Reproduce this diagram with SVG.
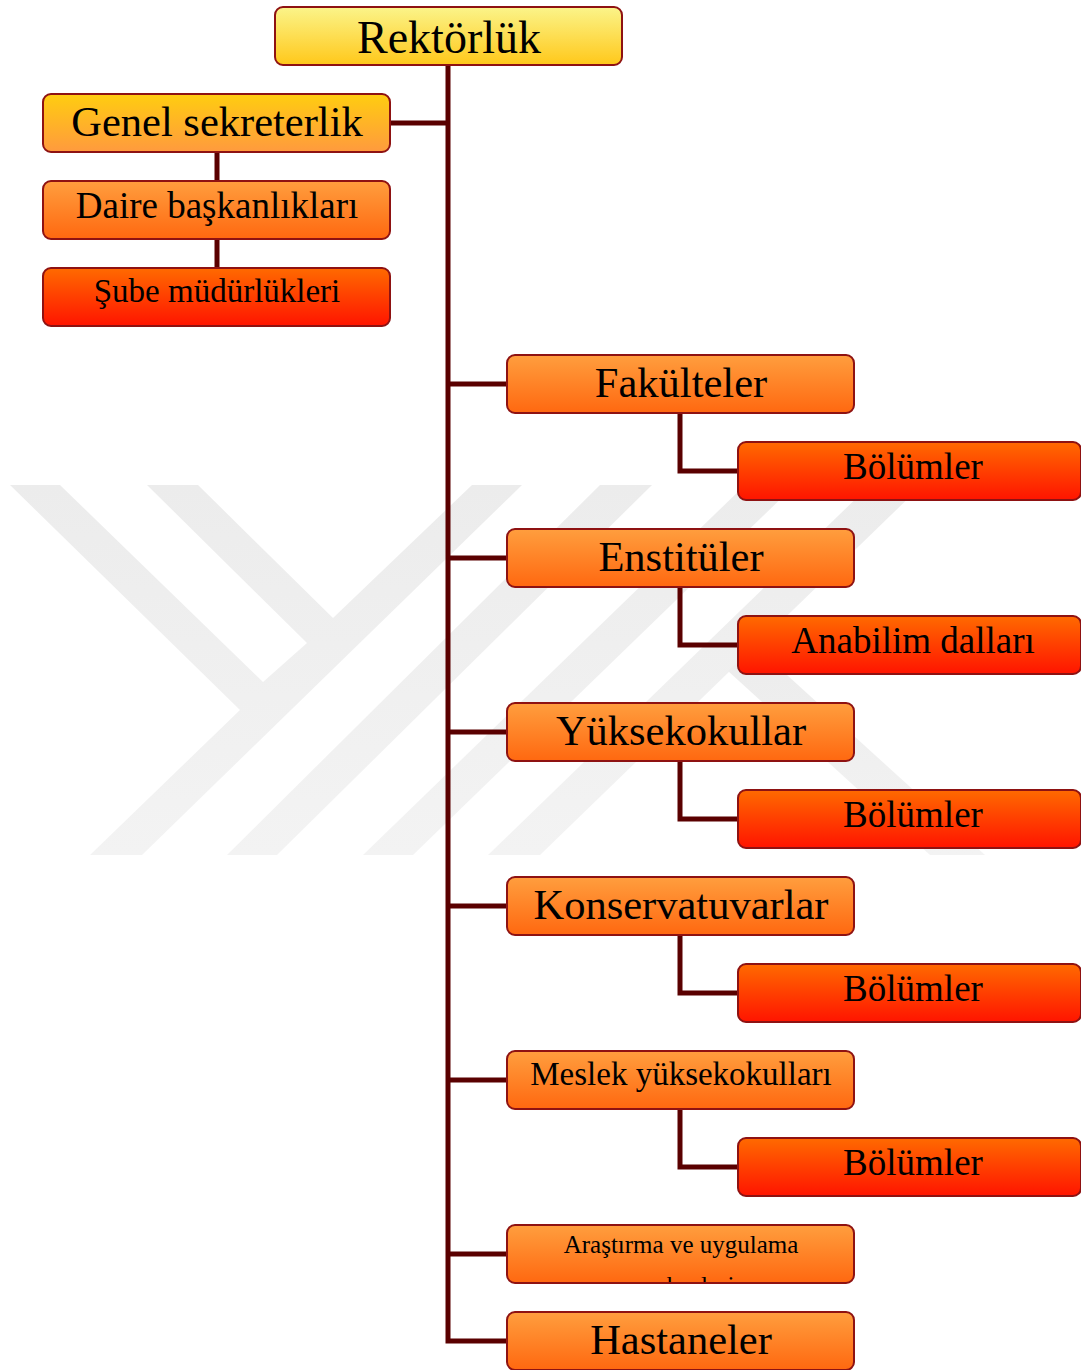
<svg xmlns="http://www.w3.org/2000/svg" width="1081" height="1370" viewBox="0 0 1081 1370">
<defs>
<style>
.box{stroke:#8e1212;stroke-width:2}
.t{font-family:"Liberation Serif","Times New Roman",serif;fill:#000;text-anchor:middle}
.c{fill:none;stroke:#5a0000;stroke-width:5}
.wm{fill:url(#gW)}
</style>
<linearGradient id="gW" x1="0" y1="0" x2="0" y2="1"><stop offset="0" stop-color="#ececec"/><stop offset="1" stop-color="#f3f3f3"/></linearGradient>
<linearGradient id="gY" x1="0" y1="0" x2="0" y2="1"><stop offset="0" stop-color="#fbf48a"/><stop offset="1" stop-color="#ffc81a"/></linearGradient>
<linearGradient id="gGS" x1="0" y1="0" x2="0" y2="1"><stop offset="0" stop-color="#ffcd10"/><stop offset="1" stop-color="#ff9a3e"/></linearGradient>
<linearGradient id="gO" x1="0" y1="0" x2="0" y2="1"><stop offset="0" stop-color="#ff9e3e"/><stop offset="1" stop-color="#ff6810"/></linearGradient>
<linearGradient id="gR" x1="0" y1="0" x2="0" y2="1"><stop offset="0" stop-color="#ff6a00"/><stop offset="1" stop-color="#ff1400"/></linearGradient>
<clipPath id="clipAr"><rect x="507" y="1226" width="347" height="56"/></clipPath>
</defs>

<g id="watermark">
<polygon class="wm" points="10,485 60,485 263,682 307,643 147,485 198,485 333,618 472,485 522,485 142,855 90,855 240,710"/>
<polygon class="wm" points="600,485 652,485 277,855 227,855"/>
<polygon class="wm" points="745,485 795,485 413,855 363,855"/>
<polygon class="wm" points="870,485 922,485 540,855 488,855"/>
<polygon class="wm" points="728,671 755,646 985,855 930,855"/>
</g>

<g id="connectors">
<polyline class="c" points="448,65 448,1341 507,1341"/>
<line class="c" x1="390" y1="123" x2="448" y2="123"/>
<line class="c" x1="217" y1="152" x2="217" y2="181"/>
<line class="c" x1="217" y1="239" x2="217" y2="268"/>
<line class="c" x1="448" y1="384" x2="507" y2="384"/>
<line class="c" x1="448" y1="558" x2="507" y2="558"/>
<line class="c" x1="448" y1="732" x2="507" y2="732"/>
<line class="c" x1="448" y1="906" x2="507" y2="906"/>
<line class="c" x1="448" y1="1080" x2="507" y2="1080"/>
<line class="c" x1="448" y1="1254" x2="507" y2="1254"/>
<polyline class="c" points="680,413 680,471 738,471"/>
<polyline class="c" points="680,587 680,645 738,645"/>
<polyline class="c" points="680,761 680,819 738,819"/>
<polyline class="c" points="680,935 680,993 738,993"/>
<polyline class="c" points="680,1109 680,1167 738,1167"/>
</g>

<g id="rektorluk">
<rect class="box" x="275" y="7" width="347" height="58" rx="8" fill="url(#gY)"/>
<text class="t" x="449" y="53" font-size="46">Rektörlük</text>
</g>
<g id="genel-sekreterlik">
<rect class="box" x="43" y="94" width="347" height="58" rx="8" fill="url(#gGS)"/>
<text class="t" x="217" y="136" font-size="42.5">Genel sekreterlik</text>
</g>
<g id="daire-baskanliklari">
<rect class="box" x="43" y="181" width="347" height="58" rx="8" fill="url(#gO)"/>
<text class="t" x="217" y="218" font-size="37">Daire başkanlıkları</text>
</g>
<g id="sube-mudurlukleri">
<rect class="box" x="43" y="268" width="347" height="58" rx="8" fill="url(#gR)"/>
<text class="t" x="217" y="302" font-size="33">Şube müdürlükleri</text>
</g>

<g id="fakulteler">
<rect class="box" x="507" y="355" width="347" height="58" rx="8" fill="url(#gO)"/>
<text class="t" x="681" y="397" font-size="42.5">Fakülteler</text>
</g>
<g id="bolumler-1">
<rect class="box" x="738" y="442" width="343" height="58" rx="8" fill="url(#gR)"/>
<text class="t" x="913" y="479" font-size="37">Bölümler</text>
</g>

<g id="enstituler">
<rect class="box" x="507" y="529" width="347" height="58" rx="8" fill="url(#gO)"/>
<text class="t" x="681" y="571" font-size="42.5">Enstitüler</text>
</g>
<g id="anabilim-dallari">
<rect class="box" x="738" y="616" width="343" height="58" rx="8" fill="url(#gR)"/>
<text class="t" x="913" y="653" font-size="37">Anabilim dalları</text>
</g>

<g id="yuksekokullar">
<rect class="box" x="507" y="703" width="347" height="58" rx="8" fill="url(#gO)"/>
<text class="t" x="681" y="745" font-size="42.5">Yüksekokullar</text>
</g>
<g id="bolumler-2">
<rect class="box" x="738" y="790" width="343" height="58" rx="8" fill="url(#gR)"/>
<text class="t" x="913" y="827" font-size="37">Bölümler</text>
</g>

<g id="konservatuvarlar">
<rect class="box" x="507" y="877" width="347" height="58" rx="8" fill="url(#gO)"/>
<text class="t" x="681" y="919" font-size="42.5">Konservatuvarlar</text>
</g>
<g id="bolumler-3">
<rect class="box" x="738" y="964" width="343" height="58" rx="8" fill="url(#gR)"/>
<text class="t" x="913" y="1001" font-size="37">Bölümler</text>
</g>

<g id="meslek-yuksekokullari">
<rect class="box" x="507" y="1051" width="347" height="58" rx="8" fill="url(#gO)"/>
<text class="t" x="681" y="1085" font-size="33">Meslek yüksekokulları</text>
</g>
<g id="bolumler-4">
<rect class="box" x="738" y="1138" width="343" height="58" rx="8" fill="url(#gR)"/>
<text class="t" x="913" y="1175" font-size="37">Bölümler</text>
</g>

<g id="arastirma-merkezleri">
<rect class="box" x="507" y="1225" width="347" height="58" rx="8" fill="url(#gO)"/>
<g clip-path="url(#clipAr)">
<text class="t" x="681" y="1253" font-size="25">Araştırma ve uygulama</text>
<text class="t" x="681" y="1294" font-size="25">merkezleri</text>
</g>
</g>

<g id="hastaneler">
<rect class="box" x="507" y="1312" width="347" height="58" rx="8" fill="url(#gO)"/>
<text class="t" x="681" y="1354" font-size="42.5">Hastaneler</text>
</g>
</svg>
